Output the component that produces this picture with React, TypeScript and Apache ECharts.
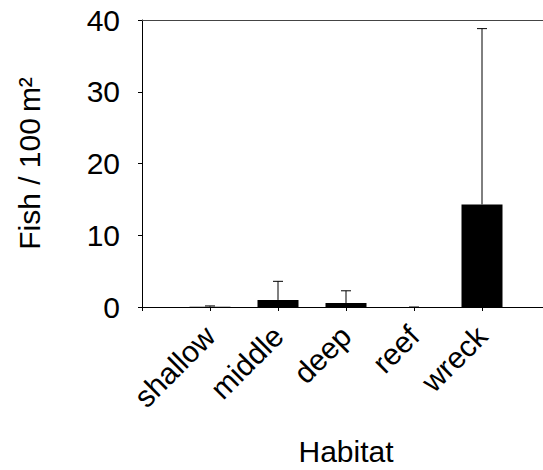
import React, { useEffect, useRef } from "react";
import * as echarts from "echarts";

const categories = ["", "shallow", "middle", "deep", "reef", "wreck", ""];
const means = [null, 0.05, 0.98, 0.56, 0, 14.3, null];
const errors = [null, 0.1, 2.6, 1.7, 0, 24.5, null];
const yTicks = [0, 10, 20, 30, 40];

const FONT = "'Liberation Sans', Arial, sans-serif";

export default function App() {
  const ref = useRef<HTMLDivElement>(null);
  useEffect(() => {
    document.body.style.margin = "0";
    document.body.style.overflow = "hidden";
    if (!ref.current) return;
    const chart = echarts.init(ref.current, undefined, { renderer: "svg" });
    const errData = means
      .map((m, i) => (m === null ? null : [i, m, (m as number) + (errors[i] as number)]))
      .filter((d) => d !== null);
    chart.setOption({
      animation: false,
      backgroundColor: "#fff",
      textStyle: { fontFamily: FONT, color: "#000" },
      grid: {
        left: 142,
        top: 20,
        width: 408,
        height: 287,
        outerBoundsMode: "none",
        containLabel: false,
        show: false,
      },
      xAxis: [
        {
          type: "category",
          data: categories,
          boundaryGap: false,
          axisLine: { lineStyle: { color: "#000", width: 1 } },
          axisTick: { show: true, length: 4, interval: 0, lineStyle: { color: "#000" } },
          axisLabel: {
            interval: 0,
            rotate: 45,
            margin: 24,
            fontSize: 30,
            color: "#000",
            fontFamily: FONT,
          },
          name: "Habitat",
          nameLocation: "middle",
          nameGap: 129,
          nameTextStyle: { fontSize: 30, color: "#000", fontFamily: FONT },
          splitLine: { show: false },
        },
        {
          type: "category",
          data: categories,
          position: "top",
          boundaryGap: false,
          axisLine: { show: true, lineStyle: { color: "#444", width: 1 } },
          axisTick: { show: false },
          axisLabel: { show: false },
          splitLine: { show: false },
        },
      ],
      yAxis: {
        type: "value",
        min: yTicks[0],
        max: yTicks[yTicks.length - 1],
        interval: 10,
        axisLine: { show: true, lineStyle: { color: "#000", width: 1 } },
        axisTick: { show: true, length: 4, lineStyle: { color: "#000" } },
        axisLabel: { fontSize: 30, margin: 22, color: "#000", fontFamily: FONT },
        splitLine: { show: false },
        name: "Fish / 100\u2009m\u00b2",
        nameLocation: "middle",
        nameGap: 98,
        nameTextStyle: { fontSize: 30, color: "#000", fontFamily: FONT },
      },
      series: [
        {
          type: "bar",
          data: means,
          barWidth: 41,
          itemStyle: { color: "#000" },
          z: 2,
        },
        {
          type: "custom",
          data: errData,
          z: 3,
          renderItem: (params: any, api: any) => {
            const idx = api.value(0);
            const base = api.coord([idx, api.value(1)]);
            const top = api.coord([idx, api.value(2)]);
            const cap = 5;
            return {
              type: "group",
              children: [
                {
                  type: "line",
                  shape: { x1: base[0], y1: base[1], x2: top[0], y2: top[1] },
                  style: { stroke: "#000", lineWidth: 1 },
                },
                {
                  type: "line",
                  shape: { x1: top[0] - cap, y1: top[1], x2: top[0] + cap, y2: top[1] },
                  style: { stroke: "#000", lineWidth: 1 },
                },
              ],
            };
          },
        },
      ],
    });
    return () => chart.dispose();
  }, []);
  return <div ref={ref} style={{ width: 543, height: 470 }} />;
}
